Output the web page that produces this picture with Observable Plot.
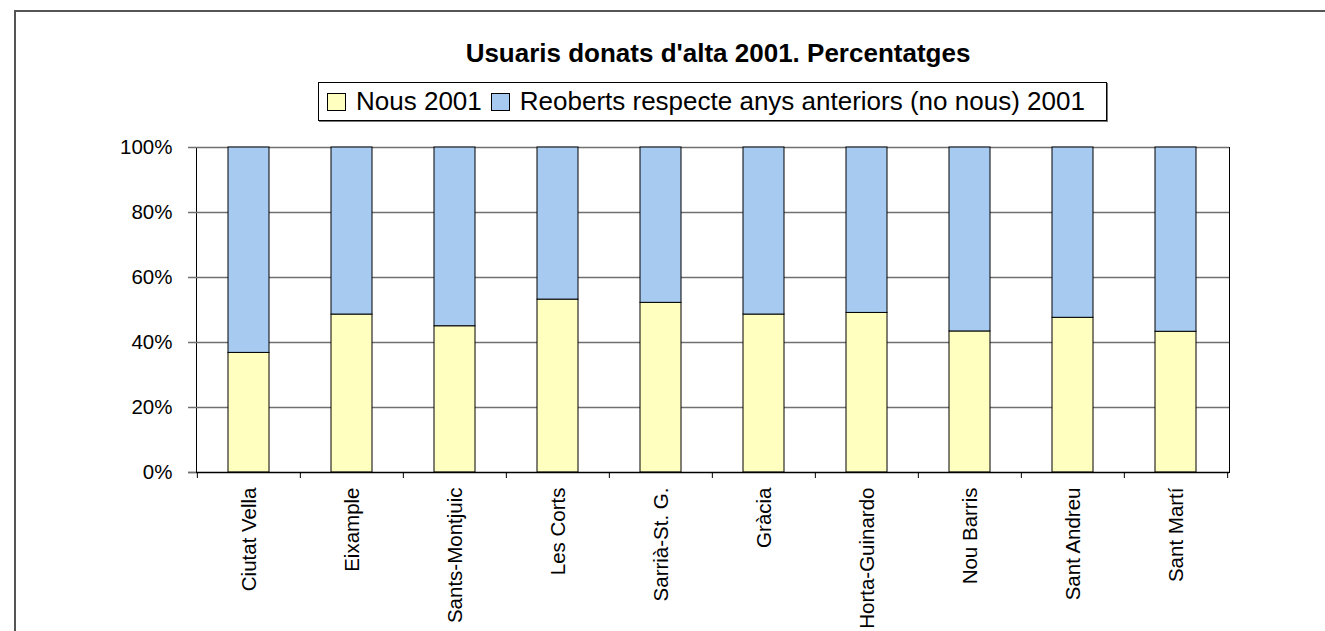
<!DOCTYPE html>
<html>
<head>
<meta charset="utf-8">
<script src="https://cdn.jsdelivr.net/npm/d3@7"></script>
<script src="https://cdn.jsdelivr.net/npm/@observablehq/plot@0.6"></script>
<style>
  html, body { margin: 0; padding: 0; background: #fff; overflow: hidden; }
  #page { width: 1325px; height: 631px; position: relative; overflow: hidden; font-family: "Liberation Sans", Arial, sans-serif; }
  #hline { position: absolute; left: 14px; top: 10px; width: 1311px; height: 2px; background: #555; }
  #vline { position: absolute; left: 14px; top: 10px; width: 2px; height: 621px; background: #555; }
  #title { position: absolute; left: 111px; width: 1214px; top: 38px; text-align: center; font-weight: bold; font-size: 26px; color: #000; white-space: nowrap; }
  #legend { position: absolute; left: 318px; top: 82px; width: 789px; height: 39px; box-sizing: border-box; border: 1px solid #000; box-shadow: 1px 1px 0 #777; display: flex; align-items: center; font-size: 26px; color: #000; white-space: nowrap; }
  #legend .sw { display: inline-block; width: 19px; height: 18px; border: 1px solid #000; box-sizing: border-box; margin: 0 10px 0 8px; }
  #chart { position: absolute; left: 0; top: 0; width: 1325px; height: 631px; }
</style>
</head>
<body>
<div id="page">
  <div id="hline"></div>
  <div id="vline"></div>
  <div id="chart"></div>
  <div id="title"></div>
  <div id="legend"></div>
</div>
<script>
const titleText = "Usuaris donats d'alta 2001. Percentatges";
const districts = ["Ciutat Vella", "Eixample", "Sants-Montjuic", "Les Corts", "Sarrià-St. G.", "Gràcia", "Horta-Guinardo", "Nou Barris", "Sant Andreu", "Sant Martí"];
const seriesNames = ["Nous 2001", "Reoberts respecte anys anteriors (no nous) 2001"];
const nous = [36.8, 48.6, 45.0, 53.2, 52.2, 48.6, 49.1, 43.4, 47.6, 43.3];
const reoberts = [63.2, 51.4, 55.0, 46.8, 47.8, 51.4, 50.9, 56.6, 52.4, 56.7];
const seriesColors = ["#FFFFC0", "#A6CAF0"];
const yTicks = [0, 20, 40, 60, 80, 100];

const data = [];
districts.forEach((d, i) => {
  data.push({district: d, series: seriesNames[0], value: nous[i]});
  data.push({district: d, series: seriesNames[1], value: reoberts[i]});
});

document.getElementById("title").textContent = titleText;
const legend = document.getElementById("legend");
seriesNames.forEach((s, i) => {
  const sw = document.createElement("span");
  sw.className = "sw";
  sw.style.background = seriesColors[i];
  if (i > 0) sw.style.marginLeft = "9px";
  legend.appendChild(sw);
  const t = document.createElement("span");
  t.textContent = s;
  legend.appendChild(t);
});

const W = 1325, H = 631, mL = 196, mR = 96, mT = 147, mB = 159;
const step = (W - mL - mR) / districts.length;

const chart = Plot.plot({
  width: W,
  height: H,
  marginLeft: mL,
  marginRight: mR,
  marginTop: mT,
  marginBottom: mB,
  style: {fontFamily: "'Liberation Sans', Arial, sans-serif", fontSize: "20px", color: "#000", background: "transparent"},
  x: {domain: districts, paddingInner: 0.6, paddingOuter: 0.3, label: null},
  y: {domain: [0, 100], label: null},
  color: {domain: seriesNames, range: seriesColors},
  marks: [
    Plot.frame({stroke: "#000"}),
    Plot.ruleY(yTicks.filter(t => t > 0), {stroke: "#707070", strokeWidth: 1.5, insetLeft: -8}),
    Plot.barY(data, {x: "district", y: "value", fill: "series", order: seriesNames, stroke: "#000", strokeWidth: 1}),
    Plot.ruleY([0], {stroke: "#000", strokeWidth: 1.5, insetLeft: -8}),
    Plot.axisY({ticks: yTicks, tickFormat: d => d + "%", tickSize: 8, tickPadding: 16, stroke: "#707070", fontSize: 20.5, label: null}),
    Plot.axisX({tickSize: 0, tickRotate: -90, tickPadding: 15, fontSize: 20.5, label: null}),
    Plot.axisX({tickSize: 6, fill: "none", dx: -step / 2, stroke: "#000", label: null}),
    Plot.axisX({ticks: districts.slice(-1), tickSize: 6, fill: "none", dx: step / 2, stroke: "#000", label: null})
  ]
});
document.getElementById("chart").appendChild(chart);
</script>
</body>
</html>
